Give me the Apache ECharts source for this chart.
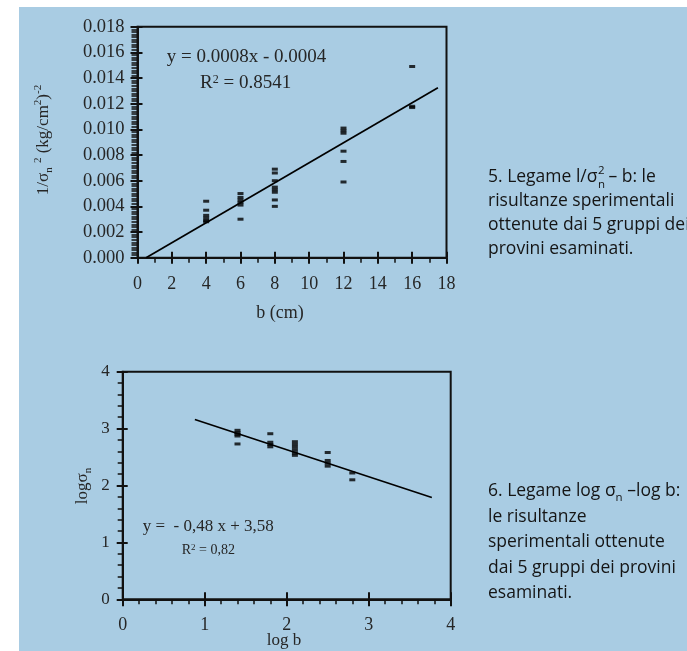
<!DOCTYPE html>
<html>
<head>
<meta charset="utf-8">
<script src="https://cdn.jsdelivr.net/npm/echarts@6/dist/echarts.min.js"></script>
<style>
html,body{margin:0;padding:0;background:#fff;}
#bg{position:absolute;left:19px;top:7px;width:668px;height:644px;background:#a9cce3;}
#chart{position:absolute;left:0;top:0;width:687px;height:651px;}
</style>
</head>
<body>
<div id="bg"></div>
<div id="chart"></div>
<script>
// ---- Data: chart 5 (1/sigma_n^2 vs b) ----
const topXLabels = ['0','2','4','6','8','10','12','14','16','18'];
const topYLabels = ['0.000','0.002','0.004','0.006','0.008','0.010','0.012','0.014','0.016','0.018'];
const topB4  = [0.0044, 0.0037, 0.0033, 0.0031, 0.0029, 0.0028];
const topB6  = [0.0050, 0.0047, 0.0045, 0.0043, 0.0041, 0.0030];
const topB8  = [0.0069, 0.0066, 0.0060, 0.0055, 0.0053, 0.0051, 0.0045, 0.0040];
const topB12 = [0.0101, 0.0099, 0.0097, 0.0083, 0.0075, 0.0059];
const topB16 = [0.0149, 0.0118, 0.0117];
const topFitX = [0.5, 17.5];
const topFitY = [0.0, 0.01325];

// ---- Data: chart 6 (log sigma_n vs log b) ----
const botLabels = ['0','1','2','3','4'];
const botX = [1.4, 1.8, 2.1, 2.5, 2.8];
const botY14 = [2.97, 2.93, 2.90, 2.87, 2.73];
const botY18 = [2.91, 2.76, 2.72, 2.68];
const botY21 = [2.77, 2.72, 2.67, 2.62, 2.57, 2.53];
const botY25 = [2.58, 2.44, 2.39, 2.34];
const botY28 = [2.22, 2.10];
const botFitX = [0.88, 3.77];
const botFitY = [3.16, 1.79];

const topGroups = [[4, topB4], [6, topB6], [8, topB8], [12, topB12], [16, topB16]];
const botGroups = [[botX[0], botY14], [botX[1], botY18], [botX[2], botY21], [botX[3], botY25], [botX[4], botY28]];
const topPts = [];
topGroups.forEach(g => g[1].forEach(v => topPts.push([g[0], v])));
const botPts = [];
botGroups.forEach(g => g[1].forEach(v => botPts.push([g[0], v])));

const INK = '#111';
const LBL = '#262626';
const SERIF = '"Liberation Serif", "Times New Roman", serif';
const CAPF = '"Open Sans"';
const CAPC = '#151515';

function mainAxis(grid, min, max, interval, minorSplit, fmt, fontSize, margin, tickLen, minorLen) {
  return {
    type: 'value', gridIndex: grid, min: min, max: max, interval: interval,
    axisLine: { show: true, onZero: false, lineStyle: { color: INK, width: 2 } },
    axisTick: { show: true, inside: false, length: tickLen, lineStyle: { color: INK, width: 2 } },
    minorTick: { show: true, splitNumber: minorSplit, length: minorLen, lineStyle: { color: INK, width: 1.5 } },
    splitLine: { show: false }, minorSplitLine: { show: false },
    axisLabel: { show: true, margin: margin, fontFamily: SERIF, fontSize: fontSize, color: LBL, formatter: fmt }
  };
}
function innerAxis(grid, min, max, interval, pos, len) {
  return {
    type: 'value', gridIndex: grid, min: min, max: max, interval: interval, position: pos, offset: 0,
    axisLine: { show: false, onZero: false },
    axisTick: { show: true, inside: true, length: len, lineStyle: { color: INK, width: 2 } },
    axisLabel: { show: false }, splitLine: { show: false }
  };
}

const chart = echarts.init(document.getElementById('chart'), null, { renderer: 'canvas' });

// text measuring for the stacked super/subscript in caption 5
const cv = document.createElement('canvas').getContext('2d');
const capSize = 17.5;
cv.font = capSize + 'px ' + CAPF;
const capX = 488;
const w1 = cv.measureText('5. Legame l/σ').width;

function capText(txt, y) {
  return { type: 'text', x: capX, y: y, silent: true,
    style: { text: txt, fontFamily: CAPF, fontSize: capSize, fill: CAPC, align: 'left', verticalAlign: 'middle' } };
}

const option = {
  animation: false,
  backgroundColor: 'transparent',
  grid: [
    { left: 137.5, right: 240.5, top: 26.7, bottom: 393.3, show: true, borderColor: INK, borderWidth: 2, backgroundColor: 'transparent' },
    { left: 122.7, right: 236.3, top: 371.7, bottom: 51.7, show: true, borderColor: INK, borderWidth: 2, backgroundColor: 'transparent' }
  ],
  xAxis: [
    mainAxis(0, 0, 18, 2, 2, v => topXLabels[Math.round(v / 2)], 18, 18, 6, 5),
    innerAxis(0, 0, 18, 2, 'bottom', 6),
    mainAxis(1, 0, 4, 1, 5, v => botLabels[Math.round(v)], 18, 17, 7, 5),
    innerAxis(1, 0, 4, 1, 'bottom', 7)
  ],
  yAxis: [
    mainAxis(0, 0, 0.018, 0.002, 10, v => topYLabels[Math.round(v / 0.002)], 18.5, 13, 7, 6),
    innerAxis(0, 0, 0.018, 0.002, 'left', 5),
    mainAxis(1, 0, 4, 1, 5, v => botLabels[Math.round(v)], 17, 13, 6, 5),
    innerAxis(1, 0, 4, 1, 'left', 5)
  ],
  series: [
    { type: 'scatter', xAxisIndex: 0, yAxisIndex: 0, data: topPts, symbol: 'rect', symbolSize: [6, 3],
      itemStyle: { color: '#000' }, silent: true, z: 3 },
    { type: 'line', xAxisIndex: 0, yAxisIndex: 0, data: topFitX.map((x, i) => [x, topFitY[i]]), symbol: 'none',
      lineStyle: { color: '#000', width: 1.7 }, silent: true, z: 2 },
    { type: 'scatter', xAxisIndex: 2, yAxisIndex: 2, data: botPts, symbol: 'rect', symbolSize: [6, 3],
      itemStyle: { color: '#000' }, silent: true, z: 3 },
    { type: 'line', xAxisIndex: 2, yAxisIndex: 2, data: botFitX.map((x, i) => [x, botFitY[i]]), symbol: 'none',
      lineStyle: { color: '#000', width: 1.7 }, silent: true, z: 2 }
  ],
  graphic: [
    // chart 5 texts
    { type: 'text', x: 166.7, y: 56.7, silent: true,
      style: { text: 'y = 0.0008x - 0.0004', fontFamily: SERIF, fontSize: 19, fill: LBL, align: 'left', verticalAlign: 'middle' } },
    { type: 'text', x: 200, y: 83.3, silent: true,
      style: { text: 'R{s|2} = 0.8541', fontFamily: SERIF, fontSize: 19, fill: LBL, align: 'left', verticalAlign: 'middle',
        rich: { s: { fontSize: 12, verticalAlign: 'top', lineHeight: 12, fontFamily: SERIF, fill: LBL } } } },
    { type: 'text', x: 280, y: 313, silent: true,
      style: { text: 'b (cm)', fontFamily: SERIF, fontSize: 18, fill: LBL, align: 'center', verticalAlign: 'middle' } },
    { type: 'text', x: 43.5, y: 140, rotation: Math.PI / 2, silent: true,
      style: { text: '1/σ{n|n} {s|2} (kg/cm{s|2}){s|-2}', fontFamily: SERIF, fontSize: 17, fill: LBL, align: 'center', verticalAlign: 'middle',
        lineHeight: 22,
        rich: { n: { fontSize: 11, verticalAlign: 'bottom', lineHeight: 12, fontFamily: SERIF, fill: LBL },
                s: { fontSize: 11, verticalAlign: 'top', lineHeight: 11, fontFamily: SERIF, fill: LBL } } } },
    // chart 6 texts
    { type: 'text', x: 142.7, y: 526.7, silent: true,
      style: { text: 'y =  - 0,48 x + 3,58', fontFamily: SERIF, fontSize: 17, fill: LBL, align: 'left', verticalAlign: 'middle' } },
    { type: 'text', x: 181.7, y: 550, silent: true,
      style: { text: 'R{s|2} = 0,82', fontFamily: SERIF, fontSize: 14, fill: LBL, align: 'left', verticalAlign: 'middle',
        rich: { s: { fontSize: 9, verticalAlign: 'top', lineHeight: 9, fontFamily: SERIF, fill: LBL } } } },
    { type: 'text', x: 284, y: 641, silent: true,
      style: { text: 'log b', fontFamily: SERIF, fontSize: 17, fill: LBL, align: 'center', verticalAlign: 'middle' } },
    { type: 'text', x: 83, y: 486, rotation: Math.PI / 2, silent: true,
      style: { text: 'logσ{n|n}', fontFamily: SERIF, fontSize: 17, fill: LBL, align: 'center', verticalAlign: 'middle', lineHeight: 22,
        rich: { n: { fontSize: 11, verticalAlign: 'bottom', lineHeight: 12, fontFamily: SERIF, fill: LBL } } } },
    // caption 5
    capText('5. Legame l/σ', 177),
    { type: 'text', x: capX + w1 + 0.5, y: 171, silent: true,
      style: { text: '2', fontFamily: CAPF, fontSize: 11.5, fill: CAPC, align: 'left', verticalAlign: 'middle' } },
    { type: 'text', x: capX + w1 + 0.5, y: 184.5, silent: true,
      style: { text: 'n', fontFamily: CAPF, fontSize: 11.5, fill: CAPC, align: 'left', verticalAlign: 'middle' } },
    { type: 'text', x: capX + w1 + 11, y: 177, silent: true,
      style: { text: '– b: le', fontFamily: CAPF, fontSize: capSize, fill: CAPC, align: 'left', verticalAlign: 'middle' } },
    capText('risultanze sperimentali', 201),
    capText('ottenute dai 5 gruppi dei', 225),
    capText('provini esaminati.', 249),
    // caption 6
    { type: 'text', x: capX, y: 491.5, silent: true,
      style: { text: '6. Legame log σ{n|n} –log b:', fontFamily: CAPF, fontSize: capSize, fill: CAPC, align: 'left', verticalAlign: 'middle',
        lineHeight: 24,
        rich: { n: { fontSize: 11.5, verticalAlign: 'bottom', lineHeight: 15, fontFamily: CAPF, fill: CAPC } } } },
    capText('le risultanze', 517),
    capText('sperimentali ottenute', 542.5),
    capText('dai 5 gruppi dei provini', 568),
    capText('esaminati.', 593.5)
  ]
};
chart.setOption(option);
</script>
</body>
</html>
